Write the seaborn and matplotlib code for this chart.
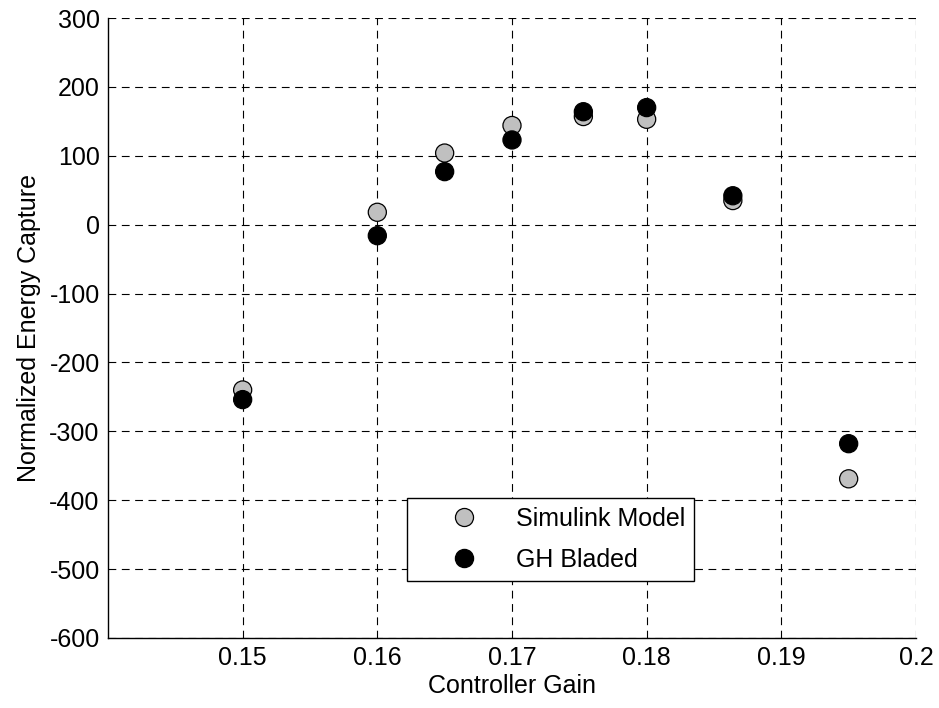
import numpy as np
import pandas as pd
import matplotlib
matplotlib.use("Agg")
import matplotlib.pyplot as plt
import seaborn as sns

# values
gain = [0.15, 0.16, 0.165, 0.17, 0.1753, 0.18, 0.1864, 0.195]
simulink = [-240, 18, 104, 144, 157, 153, 35, -369]
bladed = [-254, -16, 77, 123, 164, 170, 42, -318]
series_names = ["Simulink Model", "GH Bladed"]
x_ticks = [0.15, 0.16, 0.17, 0.18, 0.19, 0.2]
x_tick_labels = ["0.15", "0.16", "0.17", "0.18", "0.19", "0.2"]
y_ticks = [-600, -500, -400, -300, -200, -100, 0, 100, 200, 300]

df = pd.concat([
    pd.DataFrame({"gain": gain, "energy": simulink, "model": series_names[0]}),
    pd.DataFrame({"gain": gain, "energy": bladed, "model": series_names[1]}),
])

sns.set_style("white")
plt.rcParams["font.family"] = ["Liberation Sans", "DejaVu Sans"]
plt.rcParams["axes.unicode_minus"] = False
plt.rcParams["text.color"] = "black"
plt.rcParams["axes.labelcolor"] = "black"

FS = 18

fig = plt.figure(figsize=(9.39, 7.08), dpi=100)
ax = fig.add_axes([0.115, 0.099, 0.8605, 0.8755])

sns.scatterplot(data=df, x="gain", y="energy", hue="model",
                palette={"Simulink Model": "#c0c0c0", "GH Bladed": "black"},
                s=170, edgecolor="black", linewidth=0.9, ax=ax, zorder=3,
                legend=False)

ax.set_xlim(0.14, 0.2)
ax.set_ylim(-600, 300)
ax.set_xticks(x_ticks)
ax.set_xticklabels(x_tick_labels)
ax.set_yticks(y_ticks)
ax.tick_params(direction="in", length=5, width=0.8, labelsize=FS,
               color="black", labelcolor="black")
ax.tick_params(axis="x", pad=6)
ax.tick_params(axis="y", pad=6)
ax.grid(True, color="black", linestyle=(0, (7, 5)), linewidth=0.8)

for side in ["top", "right"]:
    ax.spines[side].set_visible(False)
for side in ["left", "bottom"]:
    ax.spines[side].set_color("black")
    ax.spines[side].set_linewidth(1.0)

ax.set_xlabel("Controller Gain", fontsize=FS, labelpad=3)
ax.set_ylabel("Normalized Energy Capture", fontsize=FS, labelpad=6)

handles = [
    plt.Line2D([], [], marker="o", linestyle="", markersize=13,
               markerfacecolor="#c0c0c0", markeredgecolor="black", markeredgewidth=0.9),
    plt.Line2D([], [], marker="o", linestyle="", markersize=13,
               markerfacecolor="black", markeredgecolor="black"),
]
leg = ax.legend(handles, series_names, loc="lower left",
                bbox_to_anchor=(0.370, 0.092),
                borderaxespad=0, fontsize=FS, frameon=True, fancybox=False,
                handletextpad=0.1, labelspacing=0.7, borderpad=0.35,
                handlelength=3.9)
leg.get_frame().set_edgecolor("black")
leg.get_frame().set_linewidth(1.0)
leg.get_frame().set_alpha(1)
leg.set_zorder(5)

fig.savefig("out.png", dpi=100)
